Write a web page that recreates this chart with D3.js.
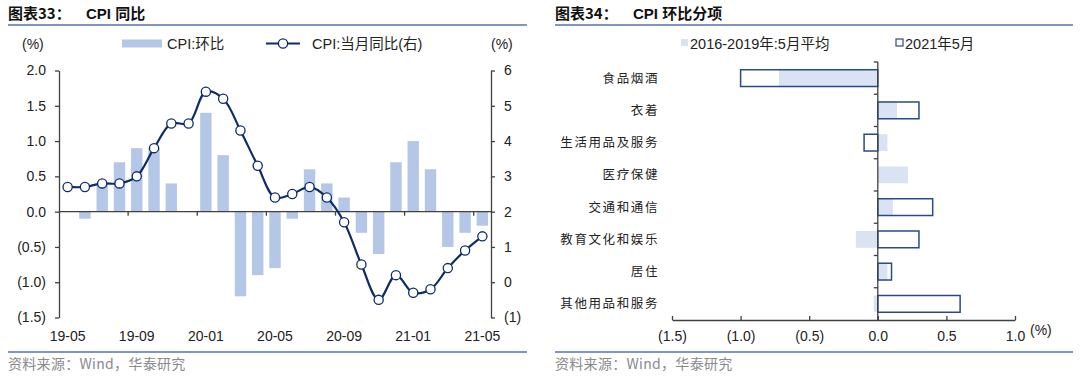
<!DOCTYPE html>
<html><head><meta charset="utf-8">
<script src="https://cdn.jsdelivr.net/npm/d3@7"></script>
<style>
body{margin:0;background:#fff;}
svg{display:block;font-family:"Liberation Sans","Noto Sans CJK SC",sans-serif;}
</style></head><body>
<svg id="c" width="1080" height="378"></svg>
<script>
// ---- Left chart data ----
const months = ["19-05","19-06","19-07","19-08","19-09","19-10","19-11","19-12","20-01","20-02","20-03","20-04","20-05","20-06","20-07","20-08","20-09","20-10","20-11","20-12","21-01","21-02","21-03","21-04","21-05"];
const cpiMoM = [0.0,-0.1,0.4,0.7,0.9,0.9,0.4,0.0,1.4,0.8,-1.2,-0.9,-0.8,-0.1,0.6,0.4,0.2,-0.3,-0.6,0.7,1.0,0.6,-0.5,-0.3,-0.2];
const cpiYoY = [2.7,2.7,2.8,2.8,3.0,3.8,4.5,4.5,5.4,5.2,4.3,3.3,2.4,2.5,2.7,2.4,1.7,0.5,-0.5,0.2,-0.3,-0.2,0.4,0.9,1.3];
const leftTicks = [2.0,1.5,1.0,0.5,0.0,-0.5,-1.0,-1.5];
const rightTicks = [6,5,4,3,2,1,0,-1];
const xLabelMonths = ["19-05","19-09","20-01","20-05","20-09","21-01","21-05"];

// ---- Right chart data ----
const items = ["食品烟酒","衣着","生活用品及服务","医疗保健","交通和通信","教育文化和娱乐","居住","其他用品和服务"];
const avg1619 = [-0.72,0.14,0.07,0.22,0.11,-0.16,0.07,-0.03];
const may2021 = [-1.0,0.3,-0.1,0.0,0.4,0.3,0.1,0.6];
const hTicks = [-1.5,-1.0,-0.5,0.0,0.5,1.0];

const svg = d3.select("#c");
const fmt = v => v < 0 ? "(" + d3.format(".1f")(-v) + ")" : d3.format(".1f")(v);
const fmtI = v => v < 0 ? "(" + (-v) + ")" : String(v);
const axisCol = "#404040", txtCol = "#222";
const barBlue = "#b4c7e7", navy = "#0e2c68";
const cjk = "'Noto Sans CJK SC',sans-serif";

// ---- Titles, rules, footers ----
function header(x0, x1, num, title){
  svg.append("text").attr("x", x0).attr("y", 19).attr("font-size", 15).attr("font-weight", "bold")
    .attr("fill", "#111").attr("font-family", cjk).text("图表" + num + "：");
  svg.append("text").attr("x", x0 + 78).attr("y", 19).attr("font-size", 15).attr("font-weight", "bold")
    .attr("fill", "#111").attr("font-family", "'Liberation Sans','Noto Sans CJK SC',sans-serif").text(title);
  svg.append("line").attr("x1", x0).attr("x2", x1).attr("y1", 25).attr("y2", 25)
    .attr("stroke", "#7f97bb").attr("stroke-width", 2);
  svg.append("line").attr("x1", x0).attr("x2", x1).attr("y1", 352).attr("y2", 352)
    .attr("stroke", "#7f97bb").attr("stroke-width", 2);
  svg.append("text").attr("x", x0).attr("y", 369).attr("font-size", 14).attr("letter-spacing", 0.3).attr("fill", "#8a8a8a")
    .attr("font-family", cjk).text("资料来源：Wind，华泰研究");
}
header(8, 527, "33", "CPI 同比");
header(555, 1073, "34", "CPI 环比分项");

// ---- Left chart ----
const x = d3.scaleBand().domain(months).range([59, 491]).paddingInner(0.34).paddingOuter(0.17);
const yL = d3.scaleLinear().domain([-1.5, 2.0]).range([317.5, 70.5]);
const yR = d3.scaleLinear().domain([-1, 6]).range([317.5, 70.5]);

const gL = svg.append("g");
gL.selectAll("rect.bar").data(months).join("rect").attr("class", "bar")
  .attr("x", d => x(d)).attr("width", x.bandwidth())
  .attr("y", (d, i) => yL(Math.max(0, cpiMoM[i])))
  .attr("height", (d, i) => Math.abs(yL(cpiMoM[i]) - yL(0)))
  .attr("fill", barBlue);

// left axis
const axL = gL.append("g").attr("transform", "translate(59,0)")
  .call(d3.axisLeft(yL).tickValues(leftTicks).tickFormat(fmt).tickSize(4).tickSizeOuter(0));
axL.select(".domain").attr("stroke", axisCol).attr("stroke-width", 1.3);
axL.selectAll(".tick line").attr("stroke", axisCol).attr("stroke-width", 1.3);
axL.selectAll("text").attr("font-size", 14).attr("fill", txtCol).attr("x", -13)
  .attr("font-family", "'Liberation Sans',sans-serif");

// right axis
const axR = gL.append("g").attr("transform", "translate(491,0)")
  .call(d3.axisRight(yR).tickValues(rightTicks).tickFormat(fmtI).tickSize(4).tickSizeOuter(0));
axR.select(".domain").attr("stroke", axisCol).attr("stroke-width", 1.3);
axR.selectAll(".tick line").attr("stroke", axisCol).attr("stroke-width", 1.3);
axR.selectAll("text").attr("font-size", 14).attr("fill", txtCol).attr("x", 13)
  .attr("font-family", "'Liberation Sans',sans-serif");

// zero x-axis line with ticks at band boundaries
const step = x.step();
const axX = gL.append("g").attr("transform", "translate(0," + yL(0) + ")");
axX.append("line").attr("x1", 59).attr("x2", 491).attr("stroke", axisCol).attr("stroke-width", 1.3);
const tickIdx = [4, 8, 12, 16, 20, 24];
axX.selectAll("line.t").data(tickIdx).join("line").attr("class", "t")
  .attr("x1", i => x(months[i]) - (step - x.bandwidth()) / 2)
  .attr("x2", i => x(months[i]) - (step - x.bandwidth()) / 2)
  .attr("y1", 0).attr("y2", 4).attr("stroke", axisCol).attr("stroke-width", 1.3);
gL.selectAll("text.xl").data(xLabelMonths).join("text").attr("class", "xl")
  .attr("x", d => x(d) + x.bandwidth() / 2).attr("y", 341)
  .attr("text-anchor", "middle").attr("font-size", 14).attr("fill", txtCol)
  .attr("font-family", "'Liberation Sans',sans-serif").text(d => d);

// line
const line = d3.line().x((d, i) => x(months[i]) + x.bandwidth() / 2).y(d => yR(d)).curve(d3.curveCatmullRom.alpha(0.5));
gL.append("path").datum(cpiYoY).attr("d", line).attr("fill", "none").attr("stroke", navy).attr("stroke-width", 2.2);
gL.selectAll("circle.pt").data(cpiYoY).join("circle").attr("class", "pt")
  .attr("cx", (d, i) => x(months[i]) + x.bandwidth() / 2).attr("cy", d => yR(d)).attr("r", 4.6)
  .attr("fill", "#fff").attr("stroke", navy).attr("stroke-width", 1.3);

// left legend
gL.append("text").attr("x", 22).attr("y", 49).attr("font-size", 14).attr("fill", txtCol).text("(%)");
gL.append("text").attr("x", 491).attr("y", 49).attr("font-size", 14).attr("fill", txtCol).text("(%)");
gL.append("rect").attr("x", 122).attr("y", 39.5).attr("width", 40).attr("height", 8).attr("fill", barBlue);
gL.append("text").attr("x", 167).attr("y", 49).attr("font-size", 14.5).attr("fill", txtCol).text("CPI:环比");
gL.append("line").attr("x1", 266).attr("x2", 300).attr("y1", 43.5).attr("y2", 43.5).attr("stroke", navy).attr("stroke-width", 2.2);
gL.append("circle").attr("cx", 283).attr("cy", 43.5).attr("r", 4.6).attr("fill", "#fff").attr("stroke", navy).attr("stroke-width", 1.3);
gL.append("text").attr("x", 312).attr("y", 49).attr("font-size", 14.5).attr("fill", txtCol).text("CPI:当月同比(右)");

// ---- Right chart ----
const xH = d3.scaleLinear().domain([-1.5, 1.0]).range([672, 1015]);
const yC = d3.scaleBand().domain(items).range([62, 320]).paddingInner(0.48).paddingOuter(0.24);
const gR = svg.append("g");
const lightBlue = "#dae3f3", outline = "#2a4a86";

gR.selectAll("rect.avg").data(items).join("rect").attr("class", "avg")
  .attr("x", (d, i) => xH(Math.min(0, avg1619[i]))).attr("y", d => yC(d))
  .attr("width", (d, i) => Math.abs(xH(avg1619[i]) - xH(0))).attr("height", yC.bandwidth())
  .attr("fill", lightBlue);
gR.selectAll("rect.may").data(items.filter((d, i) => may2021[i] !== 0)).join("rect").attr("class", "may")
  .attr("x", d => xH(Math.min(0, may2021[items.indexOf(d)]))).attr("y", d => yC(d))
  .attr("width", d => Math.abs(xH(may2021[items.indexOf(d)]) - xH(0))).attr("height", yC.bandwidth())
  .attr("fill", "none").attr("stroke", outline).attr("stroke-width", 1.5);

// vertical category axis at zero
const vBounds = d3.range(items.length + 1).map(i => 62 + i * yC.step());
gR.append("line").attr("x1", xH(0)).attr("x2", xH(0)).attr("y1", 62).attr("y2", 320).attr("stroke", axisCol).attr("stroke-width", 1.3);
gR.selectAll("line.ct").data(vBounds.slice(0, -1)).join("line").attr("class", "ct")
  .attr("x1", xH(0) - 4).attr("x2", xH(0)).attr("y1", d => d).attr("y2", d => d)
  .attr("stroke", axisCol).attr("stroke-width", 1.3);
gR.selectAll("text.cat").data(items).join("text").attr("class", "cat")
  .attr("x", 659).attr("y", d => yC(d) + yC.bandwidth() / 2 + 4.5).attr("text-anchor", "end")
  .attr("font-size", 12.5).attr("letter-spacing", 1.6).attr("fill", txtCol).attr("font-family", cjk)
  .text(d => d);

// horizontal value axis
const axH = gR.append("g").attr("transform", "translate(0,320)")
  .call(d3.axisTop(xH).tickValues(hTicks).tickFormat(fmt).tickSize(4).tickSizeOuter(0));
axH.select(".domain").attr("stroke", axisCol).attr("stroke-width", 1.3);
axH.selectAll(".tick line").attr("stroke", axisCol).attr("stroke-width", 1.3);
axH.selectAll("text").attr("font-size", 14).attr("fill", txtCol).attr("y", 21).attr("dy", 0)
  .attr("font-family", "'Liberation Sans',sans-serif");
gR.append("text").attr("x", 1030).attr("y", 335).attr("font-size", 14).attr("fill", txtCol).text("(%)");

// right legend
gR.append("rect").attr("x", 681).attr("y", 39).attr("width", 7).attr("height", 7).attr("fill", lightBlue);
gR.append("text").attr("x", 690).attr("y", 49).attr("font-size", 14.5).attr("fill", txtCol).text("2016-2019年:5月平均");
gR.append("rect").attr("x", 896).attr("y", 39).attr("width", 7).attr("height", 7).attr("fill", "none").attr("stroke", outline).attr("stroke-width", 1.2);
gR.append("text").attr("x", 905).attr("y", 49).attr("font-size", 14.5).attr("fill", txtCol).text("2021年5月");
</script></body></html>
